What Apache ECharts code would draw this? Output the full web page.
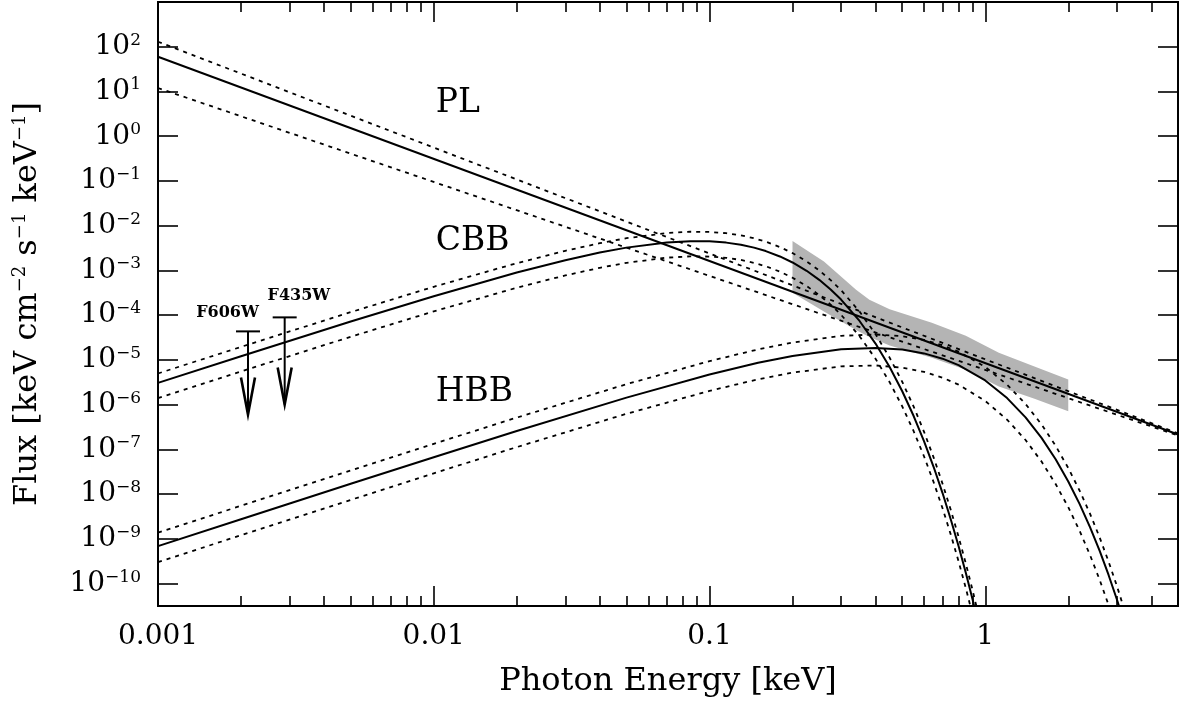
<!DOCTYPE html>
<html><head><meta charset="utf-8">
<script src="https://cdn.jsdelivr.net/npm/echarts@6/dist/echarts.min.js"></script>
<style>html,body{margin:0;padding:0;background:#fff}#c{width:1180px;height:702px}</style>
</head><body><div id="c"></div><script>
// ---------- axis ticks ----------
const xMajorTicks = [0.001, 0.01, 0.1, 1];
const xMajorLabels = ['0.001', '0.01', '0.1', '1'];
const xMinorTicks = [0.002,0.003,0.004,0.005,0.006,0.007,0.008,0.009,
                     0.02,0.03,0.04,0.05,0.06,0.07,0.08,0.09,
                     0.2,0.3,0.4,0.5,0.6,0.7,0.8,0.9, 2,3,4];
const yTickExponents = [-10,-9,-8,-7,-6,-5,-4,-3,-2,-1,0,1,2];
const xRange = [0.001, 5];
const yRangeExp = [-10.5, 3];

// ---------- power law (log10 flux) ----------
const plEnergy = [0.001, 5];
const plLogFlux = [1.777, -6.667];
const plUpperLogFlux = [2.112, -6.64];
const plLowerLogFlux = [1.078, -6.69];

// ---------- cool blackbody (log10 flux) ----------
const cbbEnergy = [0.001,0.002,0.005,0.01,0.02,0.03,0.04,0.05,0.07,0.085,0.1,0.115,0.13,0.145,0.16,0.18,0.2,0.225,0.25,0.275,0.3,0.35,0.4,0.45,0.5,0.55,0.6,0.65,0.7,0.75,0.8,0.85,0.9,0.95];
const cbbLogFlux      = [-5.513,-4.918,-4.142,-3.575,-3.047,-2.771,-2.601,-2.490,-2.374,-2.345,-2.349,-2.378,-2.426,-2.490,-2.567,-2.687,-2.822,-3.008,-3.210,-3.425,-3.651,-4.129,-4.634,-5.158,-5.700,-6.254,-6.819,-7.394,-7.976,-8.565,-9.159,-9.759,-10.362,-10.971];
const cbbUpperLogFlux = [-5.303,-4.708,-3.932,-3.365,-2.837,-2.561,-2.391,-2.280,-2.164,-2.135,-2.139,-2.168,-2.216,-2.280,-2.357,-2.477,-2.612,-2.798,-3.000,-3.215,-3.441,-3.919,-4.424,-4.948,-5.490,-6.044,-6.609,-7.184,-7.766,-8.355,-8.949,-9.549,-10.152,-10.761];
const cbbLowerLogFlux = [-5.853,-5.258,-4.482,-3.915,-3.387,-3.111,-2.941,-2.830,-2.714,-2.685,-2.689,-2.718,-2.766,-2.830,-2.907,-3.027,-3.162,-3.348,-3.550,-3.765,-3.991,-4.469,-4.974,-5.498,-6.040,-6.594,-7.159,-7.734,-8.316,-8.905,-9.499,-10.099,-10.702,-11.311];

// ---------- hot blackbody (log10 flux) ----------
const hbbEnergy = [0.001,0.002,0.005,0.01,0.02,0.05,0.1,0.15,0.2,0.3,0.4,0.5,0.6,0.7,0.8,1.0,1.2,1.4,1.6,1.8,2.0,2.2,2.4,2.6,2.8,3.0,3.2];
const hbbLogFlux      = [-9.161,-8.560,-7.769,-7.175,-6.589,-5.842,-5.327,-5.065,-4.911,-4.762,-4.731,-4.769,-4.854,-4.972,-5.115,-5.458,-5.853,-6.284,-6.742,-7.221,-7.716,-8.224,-8.742,-9.270,-9.806,-10.348,-10.896];
const hbbUpperLogFlux = [-8.861,-8.260,-7.469,-6.875,-6.289,-5.542,-5.027,-4.765,-4.611,-4.462,-4.431,-4.469,-4.554,-4.672,-4.815,-5.158,-5.553,-5.984,-6.442,-6.921,-7.416,-7.924,-8.442,-8.970,-9.506,-10.048,-10.596];
const hbbLowerLogFlux = [-9.519,-8.919,-8.128,-7.534,-6.949,-6.204,-5.692,-5.434,-5.284,-5.144,-5.123,-5.172,-5.267,-5.397,-5.552,-5.918,-6.336,-6.790,-7.272,-7.774,-8.292,-8.824,-9.366,-9.917,-10.476,-11.040,-11.600];

// ---------- grey band (log10 flux) ----------
const bandEnergy = [0.2, 0.26, 0.34, 0.38, 0.45, 0.64, 0.85, 1.12, 1.5, 2.0];
const bandUpperLogFlux = [-2.344,-2.799,-3.431,-3.654,-3.866,-4.167,-4.458,-4.837,-5.141,-5.440];
const bandLowerLogFlux = [-3.498,-3.920,-4.332,-4.490,-4.680,-4.949,-5.217,-5.596,-5.860,-6.147];

// ---------- optical upper limits ----------
const filterNames = ['F606W', 'F435W'];
const filterEnergy = [0.00212, 0.00288];
const filterLimitLogFlux = [-4.362, -4.049];
const filterArrowTipLogFlux = [-6.221, -5.998];
const filterLabelEnergy = [0.001787, 0.003245];
const filterLabelLogFlux = [-3.955, -3.565];

// ---------- component labels ----------
const componentNames = ['PL', 'CBB', 'HBB'];
const componentLabelEnergy = [0.01017, 0.01017, 0.01017];
const componentLabelLogFlux = [0.737, -2.341, -5.737];

// ---------------------------------------------------------------
const L = Math.log10;
const FONT = '"DejaVu Serif", serif';
const pairs = (E, F) => E.map((e, i) => [L(e), F[i]]);

const solid = { color: '#000', width: 2, type: 'solid' };
const dotted = { color: '#000', width: 1.8, type: [4, 5] };
function lineSeries(E, F, style) {
  return { type: 'line', data: pairs(E, F), showSymbol: false, symbol: 'none',
    smooth: false, lineStyle: style, z: 3, silent: true,
    clip: true, xAxisIndex: 0, yAxisIndex: 0 };
}

const xMin = L(xRange[0]), xMax = L(xRange[1]);
const baseX = { type: 'value', min: xMin, max: xMax, gridIndex: 0,
  splitLine: { show: false },
  axisLine: { show: true, onZero: false, lineStyle: { color: '#000', width: 2 } } };
const baseY = { type: 'value', min: yRangeExp[0], max: yRangeExp[1], gridIndex: 0,
  splitLine: { show: false },
  axisLine: { show: true, onZero: false, lineStyle: { color: '#000', width: 2 } } };

const majorX = xMajorTicks.map(L), minorX = xMinorTicks.map(L);

const xAxes = [
  Object.assign({}, baseX, { position: 'bottom',
    axisTick: { show: true, inside: true, length: 20, customValues: majorX, lineStyle: { color: '#000', width: 1.6 } },
    axisLabel: { show: true, customValues: majorX, margin: 17, color: '#000', fontFamily: FONT, fontSize: 28,
      formatter: v => { const i = majorX.findIndex(t => Math.abs(t - v) < 1e-6); return i >= 0 ? xMajorLabels[i] : ''; } },
    name: 'Photon Energy [keV]', nameLocation: 'middle', nameGap: 60,
    nameTextStyle: { color: '#000', fontFamily: FONT, fontSize: 32 } }),
  Object.assign({}, baseX, { position: 'bottom',
    axisTick: { show: true, inside: true, length: 10, customValues: minorX, lineStyle: { color: '#000', width: 1.6 } },
    axisLabel: { show: false } }),
  Object.assign({}, baseX, { position: 'top',
    axisTick: { show: true, inside: true, length: 20, customValues: majorX, lineStyle: { color: '#000', width: 1.6 } },
    axisLabel: { show: false } }),
  Object.assign({}, baseX, { position: 'top',
    axisTick: { show: true, inside: true, length: 10, customValues: minorX, lineStyle: { color: '#000', width: 1.6 } },
    axisLabel: { show: false } })
];

const yAxes = [
  Object.assign({}, baseY, { position: 'left',
    axisTick: { show: true, inside: true, length: 20, customValues: yTickExponents, lineStyle: { color: '#000', width: 1.6 } },
    axisLabel: { show: true, customValues: yTickExponents, margin: 17,
      formatter: v => { const n = Math.round(v); const e = n < 0 ? '\u2212' + (-n) : String(n); return '{b|10}{s|' + e + '}'; },
      rich: { b: { fontFamily: FONT, fontSize: 28, color: '#000', lineHeight: 30 },
              s: { fontFamily: FONT, fontSize: 17, color: '#000', lineHeight: 22, verticalAlign: 'top' } } },
    name: '{t|Flux [keV cm}{s|\u22122}{t| s}{s|\u22121}{t| keV}{s|\u22121}{t|]}',
    nameLocation: 'middle', nameGap: 113, nameRotate: 90,
    nameTextStyle: { color: '#000', rich: {
      t: { fontFamily: FONT, fontSize: 32, color: '#000', lineHeight: 34 },
      s: { fontFamily: FONT, fontSize: 18, color: '#000', lineHeight: 24, verticalAlign: 'top' } } } }),
  Object.assign({}, baseY, { position: 'right',
    axisTick: { show: true, inside: true, length: 20, customValues: yTickExponents, lineStyle: { color: '#000', width: 1.6 } },
    axisLabel: { show: false } })
];

const series = [
  { type: 'custom', z: 1, silent: true, xAxisIndex: 0, yAxisIndex: 0,
    data: [[L(bandEnergy[0]), bandUpperLogFlux[0]]],
    renderItem: (params, api) => {
      const pts = [];
      bandEnergy.forEach((e, i) => pts.push(api.coord([L(e), bandUpperLogFlux[i]])));
      for (let i = bandEnergy.length - 1; i >= 0; i--) pts.push(api.coord([L(bandEnergy[i]), bandLowerLogFlux[i]]));
      return { type: 'polygon', shape: { points: pts }, style: { fill: '#b4b4b4', stroke: null } };
    } },
  lineSeries(plEnergy, plLogFlux, solid),
  lineSeries(plEnergy, plUpperLogFlux, dotted),
  lineSeries(plEnergy, plLowerLogFlux, dotted),
  lineSeries(cbbEnergy, cbbLogFlux, solid),
  lineSeries(cbbEnergy, cbbUpperLogFlux, dotted),
  lineSeries(cbbEnergy, cbbLowerLogFlux, dotted),
  lineSeries(hbbEnergy, hbbLogFlux, solid),
  lineSeries(hbbEnergy, hbbUpperLogFlux, dotted),
  lineSeries(hbbEnergy, hbbLowerLogFlux, dotted),
  // upper-limit arrows
  { type: 'custom', z: 4, silent: true, xAxisIndex: 0, yAxisIndex: 0,
    data: filterEnergy.map((e, i) => [L(e), filterLimitLogFlux[i], filterArrowTipLogFlux[i]]),
    renderItem: (params, api) => {
      const top = api.coord([api.value(0), api.value(1)]);
      const tip = api.coord([api.value(0), api.value(2)]);
      const st = { stroke: '#000', lineWidth: 2, fill: null };
      return { type: 'group', children: [
        { type: 'line', shape: { x1: top[0] - 12, y1: top[1], x2: top[0] + 12, y2: top[1] }, style: st },
        { type: 'line', shape: { x1: top[0], y1: top[1], x2: tip[0], y2: tip[1] }, style: st },
        { type: 'polyline', shape: { points: [[tip[0] - 7, tip[1] - 37], [tip[0], tip[1]], [tip[0] + 7, tip[1] - 37]] },
          style: { stroke: '#000', lineWidth: 2.6, fill: null, lineJoin: 'miter' } }
      ] };
    } },
  // filter labels
  { type: 'custom', z: 4, silent: true, xAxisIndex: 0, yAxisIndex: 0,
    data: filterLabelEnergy.map((e, i) => [L(e), filterLabelLogFlux[i]]),
    renderItem: (params, api) => {
      const c = api.coord([api.value(0), api.value(1)]);
      return { type: 'text', x: c[0], y: c[1], style: { text: filterNames[params.dataIndex],
        font: 'bold 16px "DejaVu Serif"', fill: '#000', align: 'center', verticalAlign: 'middle' } };
    } },
  // component labels
  { type: 'custom', z: 4, silent: true, xAxisIndex: 0, yAxisIndex: 0,
    data: componentLabelEnergy.map((e, i) => [L(e), componentLabelLogFlux[i]]),
    renderItem: (params, api) => {
      const c = api.coord([api.value(0), api.value(1)]);
      return { type: 'text', x: c[0], y: c[1], style: { text: componentNames[params.dataIndex],
        font: '33px "DejaVu Serif"', fill: '#000', align: 'left', verticalAlign: 'middle' } };
    } }
];

const chart = echarts.init(document.getElementById('c'), null, { renderer: 'canvas' });
chart.setOption({
  animation: false,
  backgroundColor: '#fff',
  grid: { left: 158, right: 2, top: 2, bottom: 96, containLabel: false, outerBoundsMode: 'none' },
  xAxis: xAxes,
  yAxis: yAxes,
  series: series
});
</script></body></html>
